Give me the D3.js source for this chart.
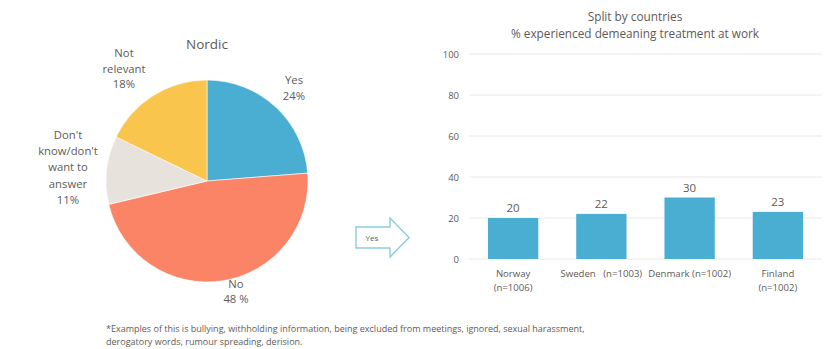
<!DOCTYPE html>
<html>
<head>
<meta charset="utf-8">
<script src="https://cdn.jsdelivr.net/npm/d3@7"></script>
<style>
  html, body { margin: 0; padding: 0; background: #fff; }
  svg { display: block; font-family: "Open Sans", Lato, sans-serif; }
</style>
</head>
<body>
<svg id="chart" width="825" height="349"></svg>
<script>
// Nordic answers (share of respondents, %)
const pieLabels = ["Yes", "No", "Don't know/don't want to answer", "Not relevant"];
const pieValues = [24, 48, 11, 18];
const pieColors = ["#4aaed3", "#fa8465", "#e8e2dd", "#f9c54c"];

// Per-country share that experienced demeaning treatment (%)
const countries = ["Norway", "Sweden", "Denmark", "Finland"];
const countryLabels = [["Norway", "(n=1006)"], ["Sweden   (n=1003)"], ["Denmark (n=1002)"], ["Finland", "(n=1002)"]];
const countryValues = [20, 22, 30, 23];
const yTicks = [0, 20, 40, 60, 80, 100];

const textColor = "#5f5a57";
const svg = d3.select("#chart");

// ---------- Pie ----------
const pieG = svg.append("g").attr("transform", "translate(207,181)");
const radius = 101;
const pie = d3.pie().sort(null).value(d => d)(pieValues);
const arc = d3.arc().innerRadius(0).outerRadius(radius);
pieG.selectAll("path").data(pie).join("path")
  .attr("d", arc)
  .attr("fill", (d, i) => pieColors[i])
  .attr("stroke", "#fff").attr("stroke-width", 0.6);

svg.append("text").attr("x", 207).attr("y", 49).attr("text-anchor", "middle")
  .attr("font-size", 13.5).attr("fill", textColor).text("Nordic");

function lines(x, y, arr, dy) {
  const t = svg.append("text").attr("text-anchor", "middle").attr("font-size", 11.3).attr("fill", textColor);
  arr.forEach((s, i) => t.append("tspan").attr("x", x).attr("y", y + i * dy).text(s));
}
lines(294, 84, ["Yes", pieValues[0] + "%"], 15.5);
lines(124, 57, ["Not", "relevant", pieValues[3] + "%"], 15.5);
lines(68, 139, ["Don't", "know/don't", "want to", "answer", pieValues[2] + "%"], 16.2);
lines(236, 288, ["No", pieValues[1] + " %"], 15);

// ---------- Arrow ----------
const arrowPts = [[356, 227], [390, 227], [390, 218], [409, 237.5], [390, 257], [390, 248], [356, 248]];
svg.append("polygon").attr("points", arrowPts.map(p => p.join(",")).join(" "))
  .attr("fill", "#fff").attr("stroke", "#8ccbe4").attr("stroke-width", 1.4);
svg.append("text").attr("x", 372).attr("y", 240.5).attr("text-anchor", "middle")
  .attr("font-size", 8).attr("fill", textColor).text("Yes");

// ---------- Bars ----------
const x = d3.scaleBand().domain(countries).range([469, 822]).paddingInner(0.43).paddingOuter(0.215);
const y = d3.scaleLinear().domain([0, 100]).range([259, 54]);

const grid = svg.append("g");
grid.selectAll("line").data(yTicks).join("line")
  .attr("x1", 469).attr("x2", 822)
  .attr("y1", d => y(d)).attr("y2", d => y(d))
  .attr("stroke", "#ece6e1").attr("stroke-width", 1);

const yAxis = svg.append("g").attr("transform", "translate(459,0)")
  .call(d3.axisLeft(y).tickValues(yTicks).tickSize(0).tickPadding(0));
yAxis.select(".domain").remove();
yAxis.selectAll("text").attr("font-size", 9.5).attr("fill", textColor).attr("font-family", "'Open Sans', sans-serif");

svg.append("g").selectAll("rect").data(countryValues).join("rect")
  .attr("x", (d, i) => x(countries[i]))
  .attr("width", x.bandwidth())
  .attr("y", d => y(d))
  .attr("height", d => y(0) - y(d))
  .attr("fill", "#4aaed3");

svg.append("g").selectAll("text").data(countryValues).join("text")
  .attr("x", (d, i) => x(countries[i]) + x.bandwidth() / 2)
  .attr("y", d => y(d) - 6)
  .attr("text-anchor", "middle").attr("font-size", 11.5).attr("fill", textColor)
  .text(d => d);

countryLabels.forEach((arr, i) => {
  const cx = x(countries[i]) + x.bandwidth() / 2;
  const t = svg.append("text").attr("text-anchor", "middle").attr("font-size", 9.6).attr("fill", textColor);
  arr.forEach((s, j) => t.append("tspan").attr("x", cx).attr("y", 277 + j * 14).attr("xml:space", "preserve").text(s));
});

svg.append("text").attr("x", 635).attr("y", 21).attr("text-anchor", "middle")
  .attr("font-size", 11.8).attr("fill", textColor).text("Split by countries");
svg.append("text").attr("x", 635).attr("y", 38).attr("text-anchor", "middle")
  .attr("font-size", 11.8).attr("fill", textColor).text("% experienced demeaning treatment at work");

// ---------- Footnote ----------
const foot = svg.append("text").attr("font-size", 9).attr("fill", textColor);
foot.append("tspan").attr("x", 106).attr("y", 332)
  .text("*Examples of this is bullying, withholding information, being excluded from meetings, ignored, sexual harassment,");
foot.append("tspan").attr("x", 106).attr("y", 345)
  .text("derogatory words, rumour spreading, derision.");
</script>
</body>
</html>
